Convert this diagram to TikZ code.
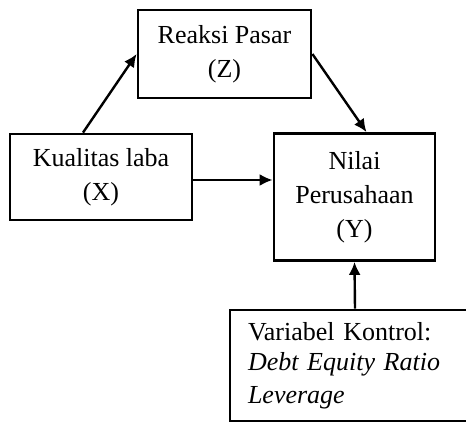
\documentclass[tikz,border=0pt]{standalone}
\usepackage{fontspec}
\setmainfont{Liberation Serif}
\usetikzlibrary{arrows.meta}
\begin{document}
\begin{tikzpicture}[x=1pt,y=-1pt,
        caja/.style={draw,line width=2.8pt,align=center,inner sep=0pt,
            font=\fontsize{26}{34}\selectfont},
        flecha/.style={line width=2.4pt,-{Latex[length=13pt,width=12pt]}}]
        % marco de la figura
        \useasboundingbox (0,0) rectangle (466,423);

        % Cajas
        \node[caja,minimum width=173pt,minimum height=88pt] (pasar) at (224.5,54) {Reaksi Pasar\\(Z)};
        \node[caja,minimum width=182pt,minimum height=86pt] (laba) at (101,177) {Kualitas laba\\(X)};
        \node[caja,minimum width=161pt,minimum height=127pt] (nilai) at (354.5,197) {Nilai\\Perusahaan\\(Y)};
        \node[caja,minimum width=250pt,minimum height=111pt,align=left,text width=214pt,
            font=\fontsize{26}{33}\selectfont] (kontrol) at (355,365.5)
            {\raisebox{-3pt}{Variabel Kontrol:}\\\textit{Debt Equity Ratio}\\\textit{Leverage}};

        % Flechas
        \draw[flecha] ([xshift=-18pt]laba.north) -- (pasar.west);
        \draw[flecha] (pasar.east) -- ([xshift=12pt]nilai.north);
        \draw[flecha] ([yshift=-3pt]laba.east) -- ([yshift=-3pt]laba.east -| nilai.west);
        \draw[flecha] (kontrol.north) -- (nilai.south);
    \end{tikzpicture}
\end{document}
